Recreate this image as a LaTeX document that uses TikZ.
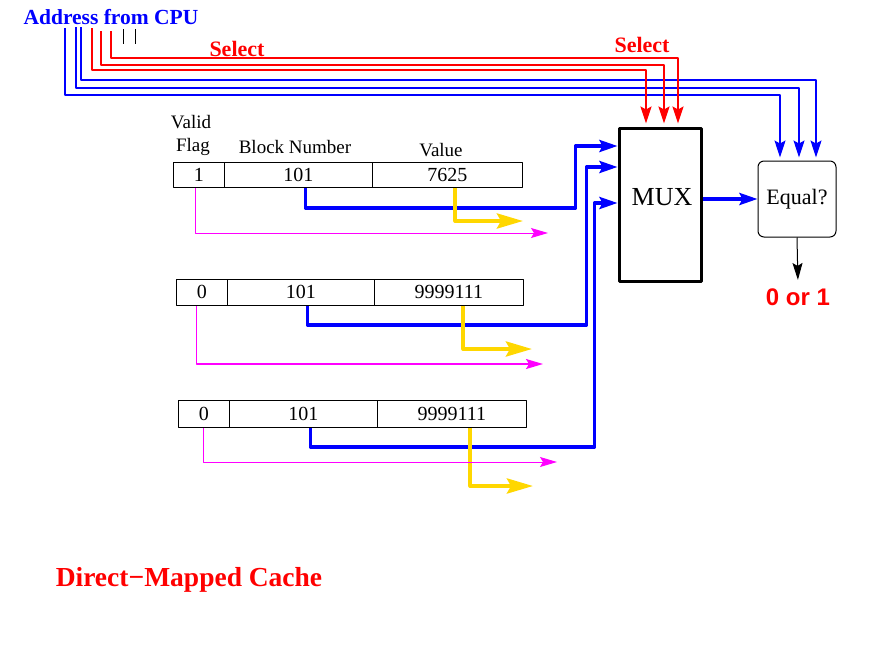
\documentclass[tikz,border=0pt]{standalone}
\usepackage{fontspec}
\setmainfont{Liberation Serif}
\newfontfamily\helvfont{Liberation Sans}
\usetikzlibrary{arrows.meta}

\definecolor{busblue}{RGB}{0,0,255}
\definecolor{selred}{RGB}{255,0,0}
\definecolor{valgold}{RGB}{255,215,0}
\definecolor{flagpink}{RGB}{255,0,255}

\tikzset{
  cell/.style={draw, line width=0.8pt, inner sep=0pt, anchor=north west,
    font=\fontsize{20}{20}\selectfont},
  head/.style={font=\fontsize{19}{19}\selectfont},
  redlabel/.style={text=selred, font=\bfseries\fontsize{22}{22}\selectfont},
  bus/.style={busblue, line width=3.5pt, -{Stealth[length=18pt,width=12pt,inset=3pt]}},
  valline/.style={valgold, line width=4pt, -{Stealth[length=26pt,width=15pt,inset=4pt]}},
  flagline/.style={flagpink, line width=1pt, -{Stealth[length=17pt,width=10pt,inset=3pt]}},
  addrline/.style={busblue, line width=1.5pt, shorten >=3pt, -{Stealth[length=17pt,width=11pt,inset=3pt]}},
  selline/.style={selred, line width=2pt, shorten >=3pt, -{Stealth[length=17pt,width=11pt,inset=3pt]}}
}

\begin{document}
\begin{tikzpicture}[x=1pt,y=-1pt,line join=round]
  % Keep the frame of the original artwork.
  \useasboundingbox (0,0) rectangle (895,656);

  % Address bits coming down from the CPU label.
  \node[text=busblue, font=\bfseries\fontsize{21.5}{22}\selectfont] (addr) at (111,17) {Address from CPU};
  \foreach \n/\x/\y in {a/65/28, b/76/27, c/81/27, d/92/28, e/101/31, f/111/31}
    \coordinate (tap\n) at (\x,\y);
  \draw[line width=1pt] (123,29) -- (123,44);
  \draw[line width=1pt] (135,29) -- (135,44);

  \node[redlabel] (sel1) at (237,49) {Select};
  \node[redlabel] (sel2) at (642,45) {Select};

  % Column headings.
  \node[head] (hvalid) at (191,122) {Valid};
  \node[head] (hflag) at (193,147) {Flag};
  \node[head] (hblock) at (295,147) {Block Number};
  \node[head] (hvalue) at (441,150) {Value};

  % Three cache lines: flag, block number, value.
  \node[cell, minimum width=51, minimum height=25] (f1) at (173,162) {1};
  \node[cell, minimum width=148, minimum height=25] (b1) at (224,162) {101};
  \node[cell, minimum width=150, minimum height=25] (v1) at (372,162) {7625};

  \node[cell, minimum width=51, minimum height=26] (f2) at (176,279) {0};
  \node[cell, minimum width=147, minimum height=26] (b2) at (227,279) {101};
  \node[cell, minimum width=149, minimum height=26] (v2) at (374,279) {9999111};

  \node[cell, minimum width=51, minimum height=27] (f3) at (178,400) {0};
  \node[cell, minimum width=148, minimum height=27] (b3) at (229,400) {101};
  \node[cell, minimum width=149, minimum height=27] (v3) at (377,400) {9999111};

  % Multiplexer and comparator.
  \node[draw, line width=3pt, minimum width=82, minimum height=153] (mux) at (660,204.5) {};
  \node[font=\fontsize{26}{26}\selectfont] (muxlabel) at (662,197) {MUX};
  \node[draw, line width=1pt, rounded corners=6pt, minimum width=78, minimum height=76,
    font=\fontsize{22}{22}\selectfont] (equal) at (797,199) {Equal?};
  \node[text=selred, font=\helvfont\bfseries\fontsize{24}{24}\selectfont] (result) at (798,297) {0 or 1};

  \coordinate (in1) at ([yshift=58.5pt]mux.west);
  \coordinate (in2) at ([yshift=37.5pt]mux.west);
  \coordinate (in3) at ([yshift=1.5pt]mux.west);

  % Free ends of the value and flag lines.
  \coordinate (val1) at (523,221);
  \coordinate (val2) at (532,349);
  \coordinate (val3) at (533,486);
  \coordinate (flg1) at (548,233);
  \coordinate (flg2) at (543,364);
  \coordinate (flg3) at (557,462);

  % Block numbers into the MUX.
  \draw[bus] ([xshift=7pt]b1.south) -- ++(0,20) -| ([xshift=-42pt]in1) -- (in1);
  \draw[bus] ([xshift=6.5pt]b2.south) -- ++(0,19) -| ([xshift=-31pt]in2) -- (in2);
  \draw[bus] ([xshift=7pt]b3.south) -- ++(0,19) -| ([xshift=-23pt]in3) -- (in3);
  \draw[bus] (mux.east |- equal.west) -- (equal.west);

  % Values and valid flags leave to the right.
  \draw[valline] ([xshift=8pt]v1.south) |- (val1);
  \draw[valline] ([xshift=14.5pt]v2.south) |- (val2);
  \draw[valline] ([xshift=18.5pt]v3.south) |- (val3);
  \draw[flagline] ([xshift=-3.5pt]f1.south) |- (flg1);
  \draw[flagline, line width=1.5pt] ([xshift=-5.5pt]f2.south) |- (flg2);
  \draw[flagline] ([xshift=-0.5pt]f3.south) |- (flg3);

  % Address bits to the comparator and the select bits to the MUX.
  \draw[addrline] (tapa) -- ++(0,67) -| ([xshift=-17pt]equal.north);
  \draw[addrline] (tapb) -- ++(0,61) -| ([xshift=2pt]equal.north);
  \draw[addrline] (tapc) -- ++(0,53) -| ([xshift=19pt]equal.north);
  \draw[selline] (tapd) -- ++(0,42) -| ([xshift=-14pt]mux.north);
  \draw[selline] (tape) -- ++(0,34) -| ([xshift=4pt]mux.north);
  \draw[selline] (tapf) -- ++(0,27) -| ([xshift=18pt]mux.north);

  \draw[line width=1pt, shorten >=5pt, -{Stealth[length=17pt,width=10pt,inset=3pt]}] (equal.south) -- (result.north);

  \node[text=selred, font=\bfseries\fontsize{27.5}{28}\selectfont] (title) at (189,580) {Direct−Mapped Cache};
\end{tikzpicture}
\end{document}
